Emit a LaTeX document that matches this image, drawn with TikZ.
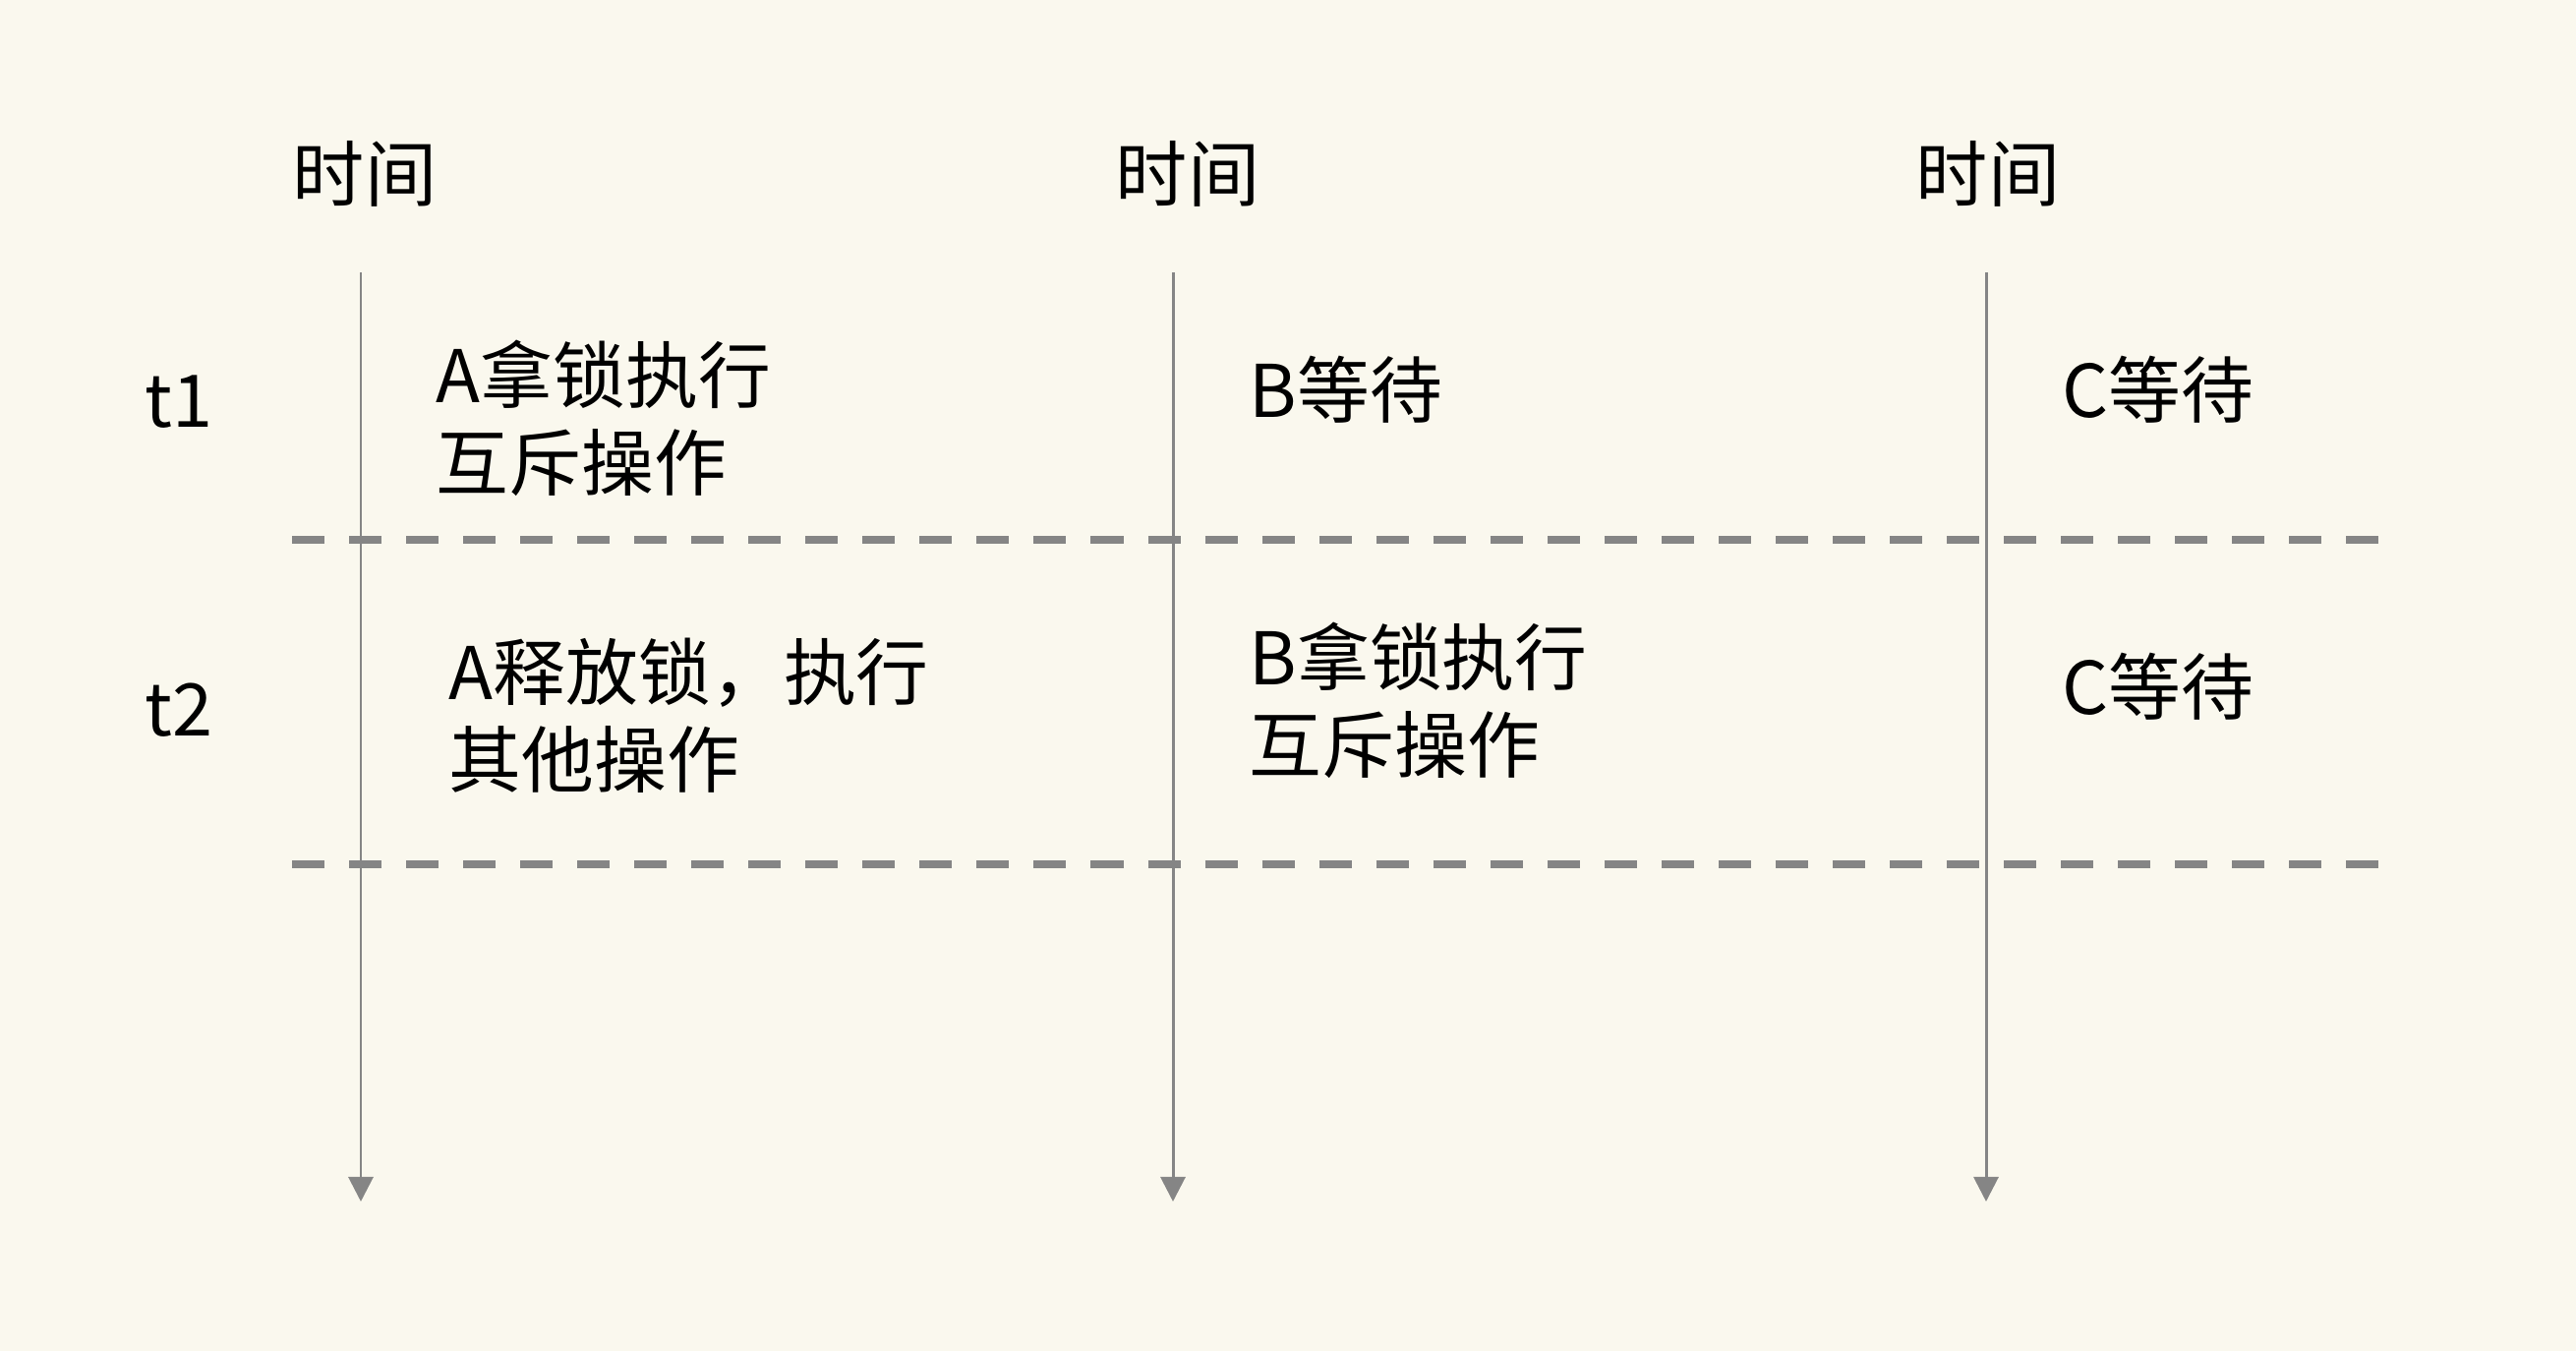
\documentclass[tikz,border=0pt]{standalone}
\usepackage{fontspec}
\setmainfont{Noto Sans CJK SC}
\usetikzlibrary{arrows.meta,positioning}
\definecolor{paper}{HTML}{FAF8EE}
\definecolor{rule}{HTML}{858585}
\begin{document}
\begin{tikzpicture}[x=0.01cm, y=-0.01cm,
    axis/.style = {draw=rule, line width=0.85pt, -{Triangle[width=0.25cm,length=0.25cm]}},
    slot/.style = {draw=rule, line width=2.3pt, dash pattern=on 0.33cm off 0.25cm},
    main/.style = {anchor=west, align=left, inner sep=0pt, font=\fontsize{21}{25.3}\selectfont},
    head/.style = {inner sep=0pt, font=\fontsize{20.8}{25.3}\selectfont}]
    \fill[paper] (0,0) rectangle (2620,1374);
    \useasboundingbox (0,0) rectangle (2620,1374);
    %headers
    \node[head] (h1) at (371,177) {时间};
    \node[head] (h2) at (1208,177) {时间};
    \node[head] (h3) at (2022,177) {时间};
    %time axes
    \coordinate (top1) at (367,277);
    \coordinate (bot1) at (367,1222);
    \coordinate (top2) at (1193,277);
    \coordinate (bot2) at (1193,1222);
    \coordinate (top3) at (2020,277);
    \coordinate (bot3) at (2020,1222);
    \draw[axis] (top1) to (bot1);
    \draw[axis] (top2) to (bot2);
    \draw[axis] (top3) to (bot3);
    %slots
    \coordinate (l1) at (297,549);
    \coordinate (r1) at (2430,549);
    \coordinate (l2) at (297,879);
    \coordinate (r2) at (2430,879);
    \draw[slot] (l1) to (r1);
    \draw[slot] (l2) to (r2);
    %row t1
    \node[main] (t1) at (147,409) {t1};
    \node[main] (a1) at (443,425) {A拿锁执行\\互斥操作};
    \node[main] (b1) at (1270,396) {B等待};
    \node[main] (c1) at (2097,396) {C等待};
    %row t2
    \node[main] (t2) at (147,722) {t2};
    \node[main] (a2) at (456,728) {A释放锁，执行\\其他操作};
    \node[main] (b2) at (1270,712) {B拿锁执行\\互斥操作};
    \node[main] (c2) at (2097,698) {C等待};
\end{tikzpicture}
\end{document}
